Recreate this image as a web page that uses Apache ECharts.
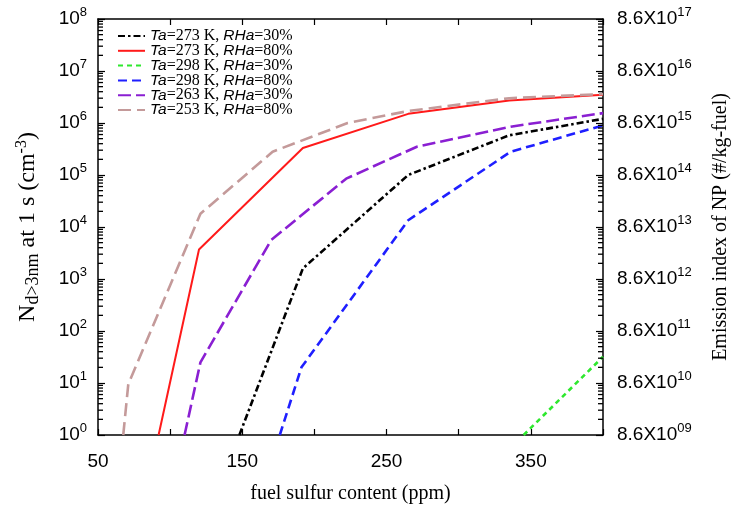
<!DOCTYPE html>
<html>
<head>
<meta charset="utf-8">
<script src="https://cdn.jsdelivr.net/npm/echarts@6/dist/echarts.min.js"></script>
<style>html,body{margin:0;padding:0;background:#fff;}#c{width:736px;height:505px;}</style>
</head>
<body>
<div id="c"></div>
<script>
// ---- data ----
const seriesNames = [
  'Ta=273 K, RHa=30%',
  'Ta=273 K, RHa=80%',
  'Ta=298 K, RHa=30%',
  'Ta=298 K, RHa=80%',
  'Ta=263 K, RHa=30%',
  'Ta=253 K, RHa=80%'
];
const xT273R30 = [148, 192, 265, 335, 400];
const yT273R30 = [1, 1600, 1.0e5, 5.8e5, 1.2e6];
const xT273R80 = [92, 120, 192, 265, 335, 400];
const yT273R80 = [1, 3700, 3.3e5, 1.5e6, 2.7e6, 3.5e6];
const xT298R30 = [345, 400];
const yT298R30 = [1, 32];
const xT298R80 = [176, 191, 265, 336, 400];
const yT298R80 = [1, 20, 1.35e4, 2.8e5, 9.0e5];
const xT263R30 = [110, 121, 170, 222, 271, 336, 400];
const yT263R30 = [1, 25, 5.6e3, 8.5e4, 3.5e5, 8.5e5, 1.55e6];
const xT253R80 = [67.5, 71, 121, 171, 223, 265, 335, 400];
const yT253R80 = [1, 9.5, 1.8e4, 2.8e5, 1.0e6, 1.7e6, 3.0e6, 3.6e6];

const xTickLabels = [50, 150, 250, 350];
const yExponents = [0, 1, 2, 3, 4, 5, 6, 7, 8];
const rightExpOffset = 9; // 8.6X10^09 at 10^0

const colors = ['#000000', '#ff1a1a', '#2ee82e', '#1f1fff', '#8a1fd2', '#c49a9a'];
const dashes = [[7, 3, 2.5, 3], 'solid', [5, 4], [9, 5], [13, 5], [13, 6]];
const widths = [2.6, 2, 2.6, 2.6, 2.6, 2.6];

const xs = [xT273R30, xT273R80, xT298R30, xT298R80, xT263R30, xT253R80];
const ys = [yT273R30, yT273R80, yT298R30, yT298R80, yT263R30, yT253R80];

const SANS = 'Liberation Sans';
const SERIF = 'Liberation Serif';

// minor log ticks (2..9 per decade) on both y axes
const minorLeft = [];
const minorRight = [];
yExponents.slice(0, -1).forEach(function (e) {
  for (let n = 2; n <= 9; n++) {
    minorLeft.push([50, n * Math.pow(10, e)]);
    minorRight.push([400, n * Math.pow(10, e)]);
  }
});

const lineSeries = seriesNames.map(function (name, i) {
  return {
    name: name,
    type: 'line',
    symbol: 'none',
    data: xs[i].map(function (x, j) { return [x, ys[i][j]]; }),
    lineStyle: { color: colors[i], width: widths[i], type: dashes[i] },
    itemStyle: { color: colors[i] },
    z: 3
  };
});

function tickSeries(name, data, off) {
  return {
    name: name,
    type: 'line',
    silent: true,
    clip: false,
    z: 6,
    data: data,
    showSymbol: true,
    showAllSymbol: true,
    symbol: 'rect',
    symbolSize: [5, 1.3],
    symbolOffset: [off, 0],
    lineStyle: { width: 0, opacity: 0 },
    itemStyle: { color: '#000', borderWidth: 0 },
    emphasis: { disabled: true }
  };
}

function legendFmt(name) {
  const m = name.match(/^Ta(=.*, )RHa(=.*)$/);
  return '{i|Ta}{r|' + m[1] + '}{i|RHa}{r|' + m[2] + '}';
}

const chart = echarts.init(document.getElementById('c'), null, { renderer: 'canvas' });
chart.setOption({
  animation: false,
  backgroundColor: '#fff',
  grid: { left: 98, right: 133, top: 19, bottom: 70, containLabel: false, outerBoundsMode: 'none' },
  legend: {
    data: seriesNames,
    orient: 'vertical',
    left: 112,
    top: 23,
    itemWidth: 27,
    itemHeight: 10,
    itemGap: -1.2,
    itemStyle: { opacity: 0 },
    formatter: legendFmt,
    textStyle: {
      color: '#000',
      fontSize: 16,
      lineHeight: 14.6,
      rich: {
        i: { fontFamily: SANS, fontStyle: 'italic', fontSize: 15.5, lineHeight: 14.6, color: '#000' },
        r: { fontFamily: SERIF, fontSize: 16, lineHeight: 14.6, color: '#000' }
      }
    }
  },
  xAxis: [{
    type: 'value', min: 50, max: 400, interval: 50,
    name: 'fuel sulfur content (ppm)', nameLocation: 'middle', nameGap: 49,
    nameTextStyle: { fontFamily: SERIF, fontSize: 20, color: '#000' },
    axisLine: { lineStyle: { color: '#000', width: 1.5 } },
    axisTick: { inside: true, length: 6, lineStyle: { color: '#000', width: 1.2 } },
    axisLabel: {
      margin: 17, fontFamily: SANS, fontSize: 19, color: '#000',
      formatter: function (v) { return xTickLabels.indexOf(v) >= 0 ? String(v) : ''; }
    },
    splitLine: { show: false }
  }, {
    type: 'value', min: 50, max: 400, interval: 50, position: 'top',
    axisLine: { lineStyle: { color: '#000', width: 1.5 } },
    axisTick: { inside: true, length: 6, lineStyle: { color: '#000', width: 1.2 } },
    axisLabel: { show: false },
    splitLine: { show: false }
  }],
  yAxis: [{
    type: 'log', logBase: 10, min: 1, max: 1e8,
    name: '{n|N}{sub|d>3nm}{n| at 1 s (cm}{sup|-3}{n|)}',
    nameLocation: 'middle', nameGap: 56, nameRotate: 90,
    nameTextStyle: {
      color: '#000',
      rich: {
        n: { fontFamily: SERIF, fontSize: 24, lineHeight: 28, color: '#000' },
        sub: { fontFamily: SERIF, fontSize: 18, lineHeight: 18, verticalAlign: 'bottom', color: '#000' },
        sup: { fontFamily: SERIF, fontSize: 16, lineHeight: 16, verticalAlign: 'top', color: '#000' }
      }
    },
    axisLine: { show: true, lineStyle: { color: '#000', width: 1.5 } },
    axisTick: { inside: true, length: 7, lineStyle: { color: '#000', width: 1.2 } },
    axisLabel: {
      margin: 11,
      formatter: function (v) { return '{b|10}{s|' + Math.round(Math.log10(v)) + '}'; },
      rich: {
        b: { fontFamily: SANS, fontSize: 19, lineHeight: 26, color: '#000' },
        s: { fontFamily: SANS, fontSize: 13, lineHeight: 13, verticalAlign: 'top', color: '#000' }
      }
    },
    splitLine: { show: false }
  }, {
    type: 'log', logBase: 10, min: 1, max: 1e8, position: 'right',
    name: 'Emission index of NP (#/kg-fuel)',
    nameLocation: 'middle', nameGap: 108, nameRotate: 90,
    nameTextStyle: { fontFamily: SERIF, fontSize: 20, color: '#000' },
    axisLine: { show: true, lineStyle: { color: '#000', width: 1.5 } },
    axisTick: { inside: true, length: 7, lineStyle: { color: '#000', width: 1.2 } },
    axisLabel: {
      margin: 14,
      formatter: function (v) {
        const e = Math.round(Math.log10(v)) + rightExpOffset;
        return '{b|8.6X10}{s|' + (e < 10 ? '0' + e : e) + '}';
      },
      rich: {
        b: { fontFamily: SANS, fontSize: 19, lineHeight: 26, color: '#000' },
        s: { fontFamily: SANS, fontSize: 13, lineHeight: 13, verticalAlign: 'top', color: '#000' }
      }
    },
    splitLine: { show: false }
  }],
  series: lineSeries.concat([
    tickSeries('minorL', minorLeft, 2.5),
    tickSeries('minorR', minorRight, -2.5)
  ])
});
</script>
</body>
</html>
